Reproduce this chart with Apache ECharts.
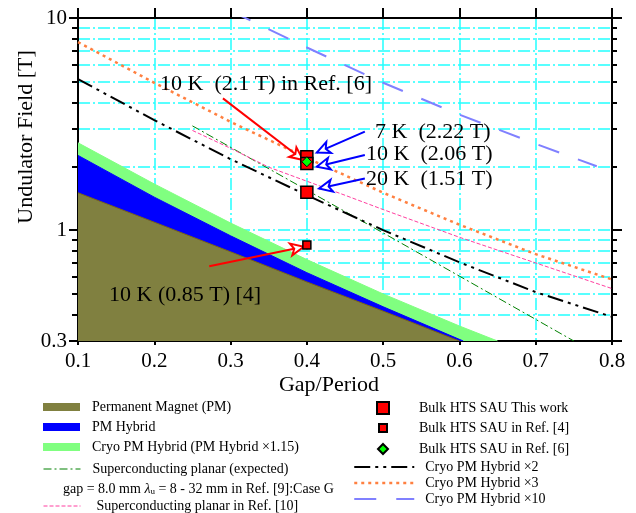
<!DOCTYPE html>
<html><head><meta charset="utf-8">
<script src="https://cdn.jsdelivr.net/npm/echarts@6/dist/echarts.min.js"></script>
<style>html,body{margin:0;padding:0;background:#fff}#c{width:636px;height:513px}</style>
</head><body><div id="c"></div>
<script>
// ---- tick labels ----
const xTickValues = [0.1, 0.2, 0.3, 0.4, 0.5, 0.6, 0.7, 0.8];
const yMajorTicks = [0.3, 1, 10];
const yMinorTicks = [0.4, 0.5, 0.6, 0.7, 0.8, 0.9, 1, 2, 3, 4, 5, 6, 7, 8, 9];

// ---- series values (gap/period, field in T) ----
const pmX = [0.1, 0.2, 0.3, 0.4, 0.5, 0.6];
const pmB = [1.5, 1.09, 0.79, 0.57, 0.415, 0.3];
const hybX = [0.1, 0.2, 0.3, 0.4, 0.5, 0.605];
const hybB = [2.25, 1.43, 0.94, 0.63, 0.435, 0.3];
const cryoX = [0.1, 0.2, 0.3, 0.4, 0.5, 0.6, 0.65];
const cryoB = [2.58, 1.65, 1.08, 0.726, 0.5, 0.353, 0.3];
const scExpX = [0.25, 0.5, 0.75];
const scExpB = [3.1, 0.97, 0.3];
const scRef10X = [0.25, 0.3, 0.35, 0.4, 0.45, 0.5, 0.6, 0.7, 0.8];
const scRef10B = [2.95, 2.43, 1.98, 1.70, 1.46, 1.25, 0.925, 0.70, 0.53];
const cryo2X = [0.1, 0.2, 0.3, 0.4, 0.5, 0.6, 0.7, 0.8];
const cryo2B = [5.15, 3.3, 2.16, 1.46, 1.0, 0.705, 0.51, 0.39];
const cryo3X = [0.1, 0.2, 0.3, 0.4, 0.5, 0.6, 0.7, 0.8];
const cryo3B = [7.7, 4.95, 3.24, 2.19, 1.5, 1.06, 0.77, 0.585];
const cryo10X = [0.3, 0.4, 0.5, 0.6, 0.7, 0.78];
const cryo10B = [10.8, 7.26, 4.95, 3.5, 2.55, 2.0];
const thisWorkX = [0.4, 0.4, 0.4];
const thisWorkB = [2.22, 2.06, 1.51];
const ref4X = [0.4];
const ref4B = [0.85];
const ref6X = [0.4];
const ref6B = [2.1];

// ---- annotation arrows (data coords) ----
const arrowFromX = [0.29, 0.476, 0.476, 0.476, 0.272];
const arrowFromB = [4.18, 2.91, 2.26, 1.75, 0.676];
const arrowToX = [0.395, 0.413, 0.413, 0.416, 0.396];
const arrowToB = [2.14, 2.32, 1.99, 1.57, 0.834];
const arrowColors = ['#ff0000', '#0000ff', '#0000ff', '#0000ff', '#ff0000'];

const FONT = "'Liberation Serif','Times New Roman',serif";
const pairs = (xs, ys) => xs.map((x, i) => [x, ys[i]]);

const N = {
  pm: 'Permanent Magnet (PM)',
  hyb: 'PM Hybrid',
  cryo: 'Cryo PM Hybrid (PM Hybrid \u00d71.15)',
  scExp: 'Superconducting planar (expected)',
  sc10: 'Superconducting planar in Ref. [10]',
  tw: 'Bulk HTS SAU This work',
  r4: 'Bulk HTS SAU in Ref. [4]',
  r6: 'Bulk HTS SAU in Ref. [6]',
  c2: 'Cryo PM Hybrid \u00d72',
  c3: 'Cryo PM Hybrid \u00d73',
  c10: 'Cryo PM Hybrid \u00d710'
};

const legTxt = (pad) => ({fontFamily: FONT, fontSize: 14, color: '#000', lineHeight: 14, padding: [0, 0, 0, pad]});
const legBase = {orient: 'vertical', selectedMode: false, padding: 0, itemGap: 6};
const noSym = {color: 'rgba(0,0,0,0)', borderWidth: 0, opacity: 0};

const gridCol = {show: true, lineStyle: {color: '#22ffff', width: 1.5, type: [12, 3, 2, 3]}};

function logAxis(pos, ticks, len, opts) {
  return Object.assign({
    type: 'log', logBase: 10, min: 0.3, max: 10, position: pos,
    axisLine: {show: true, onZero: false, lineStyle: {color: '#000', width: 2}},
    axisTick: {show: true, inside: false, length: len, customValues: ticks, lineStyle: {color: '#000', width: 2}},
    axisLabel: {show: false},
    splitLine: {show: false},
    minorTick: {show: false}, minorSplitLine: {show: false}
  }, opts || {});
}

const option = {
  animation: false,
  backgroundColor: '#fff',
  grid: {left: 78, right: 24, top: 18, bottom: 172, containLabel: false, outerBoundsMode: 'none'},
  xAxis: [
    {type: 'value', min: 0.1, max: 0.8, interval: 0.1, position: 'bottom',
     axisLine: {show: true, onZero: false, lineStyle: {color: '#000', width: 2}},
     axisTick: {show: true, inside: false, length: 4, lineStyle: {color: '#000', width: 2}},
     axisLabel: {show: true, margin: 10, fontFamily: FONT, fontSize: 21, color: '#000',
       formatter: v => { const t = xTickValues.find(q => Math.abs(q - v) < 1e-6); return t === undefined ? '' : String(t); }},
     splitLine: gridCol},
    {type: 'value', min: 0.1, max: 0.8, interval: 0.1, position: 'top',
     axisLine: {show: true, onZero: false, lineStyle: {color: '#000', width: 2}},
     axisTick: {show: true, inside: false, length: 10, lineStyle: {color: '#000', width: 2}},
     axisLabel: {show: false}, splitLine: {show: false}}
  ],
  yAxis: [
    logAxis('left', yMajorTicks, 9, {axisLabel: {show: true, customValues: yMajorTicks, margin: 11, fontFamily: FONT, fontSize: 21, color: '#000', formatter: v => String(+v.toPrecision(3))}}),
    logAxis('left', yMinorTicks, 6, {splitLine: gridCol}),
    logAxis('right', yMajorTicks, 10),
    logAxis('right', yMinorTicks, 5)
  ],
  legend: [
    Object.assign({}, legBase, {left: 43, top: 400, itemWidth: 37, itemHeight: 8, textStyle: legTxt(7),
      data: [{name: N.pm, icon: 'rect'}, {name: N.hyb, icon: 'rect'}, {name: N.cryo, icon: 'rect'}]}),
    Object.assign({}, legBase, {left: 43, top: 462, itemWidth: 37, itemHeight: 14, textStyle: legTxt(7),
      data: [{name: N.scExp, lineStyle: {width: 1}, itemStyle: noSym}]}),
    Object.assign({}, legBase, {left: 43, top: 499, itemWidth: 37, itemHeight: 14, textStyle: legTxt(11),
      data: [{name: N.sc10, lineStyle: {width: 1}, itemStyle: noSym}]}),
    Object.assign({}, legBase, {left: 376, top: 401, itemWidth: 12, itemHeight: 12, textStyle: legTxt(25),
      data: [N.tw]}),
    Object.assign({}, legBase, {left: 378, top: 421, itemWidth: 8, itemHeight: 8, textStyle: legTxt(27),
      data: [N.r4]}),
    Object.assign({}, legBase, {left: 377, top: 442, itemWidth: 10, itemHeight: 10, textStyle: legTxt(26),
      data: [N.r6]}),
    Object.assign({}, legBase, {left: 353, top: 460, itemWidth: 60, itemHeight: 14, itemGap: 2, textStyle: legTxt(6),
      data: [{name: N.c2, lineStyle: {width: 2}, itemStyle: noSym},
             {name: N.c3, lineStyle: {width: 2.5}, itemStyle: noSym},
             {name: N.c10, lineStyle: {width: 2}, itemStyle: noSym}]})
  ],
  series: [
    {name: N.cryo, type: 'line', data: pairs(cryoX, cryoB), symbol: 'none', color: '#80ff80',
     lineStyle: {color: '#80ff80', width: 1}, areaStyle: {color: '#80ff80', opacity: 1, origin: 'start'}, z: 2},
    {name: N.hyb, type: 'line', data: pairs(hybX, hybB), symbol: 'none', color: '#0000ff',
     lineStyle: {color: '#0000ff', width: 1}, areaStyle: {color: '#0000ff', opacity: 1, origin: 'start'}, z: 2},
    {name: N.pm, type: 'line', data: pairs(pmX, pmB), symbol: 'none', color: '#808040',
     lineStyle: {color: '#7a6418', width: 1}, areaStyle: {color: '#808040', opacity: 1, origin: 'start'}, z: 2},
    {name: N.scExp, type: 'line', data: pairs(scExpX, scExpB), symbol: 'none', color: '#008000',
     lineStyle: {color: '#008000', width: 1, type: [8, 3, 2, 3]}, z: 3},
    {name: N.sc10, type: 'line', data: pairs(scRef10X, scRef10B), symbol: 'none', color: '#ff3fa0',
     lineStyle: {color: '#ff3fa0', width: 1, type: [4, 2]}, z: 3},
    {name: N.c2, type: 'line', data: pairs(cryo2X, cryo2B), symbol: 'none', color: '#000',
     lineStyle: {color: '#000', width: 2, type: [16, 5, 3, 5, 3, 5]}, z: 3},
    {name: N.c3, type: 'line', data: pairs(cryo3X, cryo3B), symbol: 'none', color: '#ff8040',
     lineStyle: {color: '#ff8040', width: 2.5, type: [3, 4]}, z: 3},
    {name: N.c10, type: 'line', data: pairs(cryo10X, cryo10B), symbol: 'none', color: '#8080ff',
     lineStyle: {color: '#8080ff', width: 2, type: [22, 20]}, z: 3},
    {name: N.tw, type: 'scatter', data: pairs(thisWorkX, thisWorkB), symbol: 'rect', symbolSize: 12,
     itemStyle: {color: '#ff0000', borderColor: '#000', borderWidth: 1.5, opacity: 1}, z: 5,
     markLine: {silent: true, symbol: ['none', 'emptyArrow'], symbolSize: [9, 13], label: {show: false},
       animation: false, z: 4,
       data: arrowFromX.map((x, i) => [
         {coord: [x, arrowFromB[i]], lineStyle: {color: arrowColors[i], width: 2, type: 'solid'}},
         {coord: [arrowToX[i], arrowToB[i]], lineStyle: {color: arrowColors[i], width: 2, type: 'solid'}}
       ])}},
    {name: N.r4, type: 'scatter', data: pairs(ref4X, ref4B), symbol: 'rect', symbolSize: 8,
     itemStyle: {color: '#ff0000', borderColor: '#000', borderWidth: 1.5, opacity: 1}, z: 6},
    {name: N.r6, type: 'scatter', data: pairs(ref6X, ref6B), symbol: 'diamond', symbolSize: 10,
     itemStyle: {color: '#00ff00', borderColor: '#000', borderWidth: 1, opacity: 1}, z: 7}
  ],
  graphic: [
    {type: 'text', x: 26, y: 137, rotation: Math.PI / 2, z: 10,
     style: {text: 'Undulator Field [T]', font: '22px ' + FONT, fill: '#000', align: 'center', verticalAlign: 'middle'}},
    {type: 'text', x: 329, y: 385, z: 10,
     style: {text: 'Gap/Period', font: '22px ' + FONT, fill: '#000', align: 'center', verticalAlign: 'middle'}},
    {type: 'text', x: 160, y: 84, z: 10,
     style: {text: '10 K  (2.1 T) in Ref. [6]', font: '22px ' + FONT, fill: '#000', align: 'left', verticalAlign: 'middle'}},
    {type: 'text', x: 375, y: 132, z: 10,
     style: {text: '7 K  (2.22 T)', font: '22px ' + FONT, fill: '#000', align: 'left', verticalAlign: 'middle'}},
    {type: 'text', x: 366, y: 154, z: 10,
     style: {text: '10 K  (2.06 T)', font: '22px ' + FONT, fill: '#000', align: 'left', verticalAlign: 'middle'}},
    {type: 'text', x: 366, y: 179, z: 10,
     style: {text: '20 K  (1.51 T)', font: '22px ' + FONT, fill: '#000', align: 'left', verticalAlign: 'middle'}},
    {type: 'text', x: 109, y: 295, z: 10,
     style: {text: '10 K (0.85 T) [4]', font: '22px ' + FONT, fill: '#000', align: 'left', verticalAlign: 'middle'}},
    {type: 'text', x: 63, y: 489, z: 10,
     style: {text: '{a|gap = 8.0 mm }{i|\u03bb}{s|u}{a| = 8 - 32 mm in Ref. [9]:Case G}', align: 'left', verticalAlign: 'middle',
       rich: {a: {fontFamily: FONT, fontSize: 14, fill: '#000', color: '#000'},
              i: {fontFamily: FONT, fontSize: 14, fontStyle: 'italic', fill: '#000', color: '#000'},
              s: {fontFamily: FONT, fontSize: 9, fill: '#000', color: '#000', padding: [6, 0, 0, 0]}}}}
  ]
};

const chart = echarts.init(document.getElementById('c'), null, {renderer: 'canvas'});
chart.setOption(option);
</script>
</body></html>
